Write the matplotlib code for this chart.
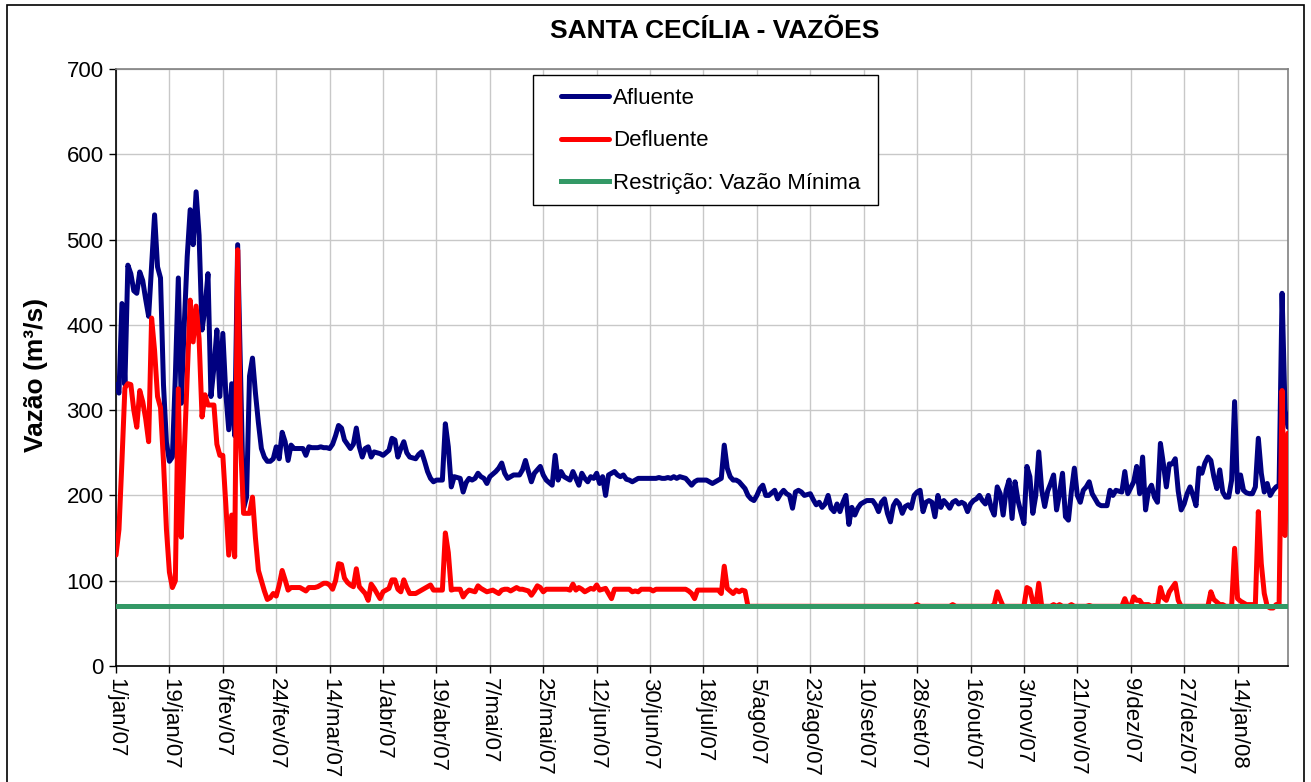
import matplotlib
matplotlib.use("Agg")
import matplotlib.pyplot as plt
from matplotlib.patches import Rectangle

plt.rcParams['font.family'] = ['Liberation Sans', 'DejaVu Sans']

# ---------------- data (daily, starting 1/jan/07) ----------------
afluente = [
    330, 320, 425, 330, 470, 460, 440, 437, 462, 452,   # 0
    430, 410, 470, 529, 468, 455, 330, 262, 240, 245,   # 10
    340, 455, 308, 400, 480, 535, 494, 556, 505, 394,   # 20
    420, 460, 316, 350, 394, 316, 390, 320, 277, 331,   # 30
    270, 494, 340, 185, 198, 340, 361, 320, 285, 255,   # 40
    245, 240, 240, 243, 257, 243, 274, 263, 241, 259,   # 50
    255, 255, 255, 255, 247, 257, 256, 256, 256, 257,   # 60
    256, 256, 255, 260, 270, 282, 279, 265, 260, 255,   # 70
    260, 279, 257, 245, 255, 257, 245, 251, 250, 249,   # 80
    247, 250, 253, 267, 265, 245, 255, 263, 250, 245,   # 90
    244, 243, 248, 251, 240, 228, 220, 216, 218, 218,   # 100
    218, 284, 257, 210, 222, 221, 220, 204, 215, 220,   # 110
    218, 220, 226, 222, 220, 214, 222, 225, 228, 232,   # 120
    238, 226, 220, 222, 224, 224, 224, 230, 241, 228,   # 130
    216, 226, 230, 234, 224, 218, 215, 212, 247, 218,   # 140
    228, 222, 220, 218, 228, 220, 212, 226, 220, 216,   # 150
    222, 220, 226, 214, 222, 200, 224, 226, 228, 224,   # 160
    222, 224, 219, 218, 216, 218, 220, 220, 220, 220,   # 170
    220, 220, 220, 221, 220, 220, 221, 220, 222, 220,   # 180
    222, 221, 220, 216, 212, 216, 218, 218, 218, 218,   # 190
    216, 214, 216, 218, 220, 259, 232, 222, 218, 218,   # 200
    216, 212, 208, 200, 196, 194, 200, 208, 212, 200,   # 210
    200, 203, 206, 196, 202, 206, 202, 200, 185, 204,   # 220
    206, 204, 200, 201, 202, 195, 189, 192, 186, 190,   # 230
    200, 185, 181, 190, 181, 192, 200, 166, 186, 177,   # 240
    185, 190, 192, 194, 194, 194, 189, 181, 192, 196,   # 250
    179, 169, 188, 194, 190, 179, 187, 189, 185, 200,   # 260
    204, 206, 181, 192, 194, 192, 175, 200, 186, 194,   # 270
    190, 185, 192, 194, 190, 192, 190, 181, 190, 194,   # 280
    196, 200, 194, 190, 200, 185, 177, 210, 202, 177,   # 290
    206, 218, 173, 216, 194, 180, 167, 234, 222, 179,   # 300
    200, 251, 206, 187, 205, 214, 224, 183, 202, 226,   # 310
    175, 171, 205, 232, 200, 192, 206, 210, 216, 202,   # 320
    196, 190, 188, 188, 188, 206, 200, 206, 205, 204,   # 330
    228, 202, 209, 216, 234, 202, 245, 183, 206, 212,   # 340
    198, 192, 261, 237, 210, 237, 237, 243, 205, 183,   # 350
    190, 202, 210, 200, 188, 232, 226, 238, 245, 241,   # 360
    222, 208, 230, 204, 198, 198, 218, 310, 204, 224,   # 370
    206, 203, 202, 202, 210, 267, 226, 204, 214, 200,   # 380
    206, 210, 212, 437, 300, 280,                       # 390
]

defluente = [
    130, 160, 240, 326, 331, 330, 300, 280, 323, 310,   # 0
    290, 263, 408, 370, 316, 303, 240, 160, 110, 92,    # 10
    100, 325, 151, 250, 340, 429, 380, 422, 384, 292,   # 20
    318, 306, 306, 306, 260, 247, 247, 190, 130, 177,   # 30
    128, 488, 260, 179, 179, 179, 198, 150, 112, 100,   # 40
    88, 78, 80, 85, 82, 95, 112, 101, 89, 92,           # 50
    92, 92, 92, 90, 88, 92, 92, 92, 93, 95,             # 60
    97, 97, 95, 90, 100, 120, 119, 103, 98, 95,         # 70
    93, 114, 93, 89, 85, 77, 96, 91, 85, 79,            # 80
    87, 89, 91, 101, 101, 90, 87, 101, 92, 85,          # 90
    85, 85, 87, 89, 91, 93, 95, 89, 89, 89,             # 100
    89, 156, 133, 89, 90, 90, 90, 81, 86, 89,           # 110
    88, 87, 94, 91, 89, 87, 88, 89, 87, 85,             # 120
    89, 90, 90, 88, 90, 92, 90, 90, 89, 88,             # 130
    83, 88, 94, 92, 87, 90, 90, 90, 90, 90,             # 140
    90, 90, 90, 89, 96, 89, 92, 90, 87, 89,             # 150
    91, 90, 95, 89, 90, 91, 85, 79, 90, 90,             # 160
    90, 90, 90, 90, 87, 88, 87, 90, 90, 90,             # 170
    90, 88, 90, 90, 90, 90, 90, 90, 90, 90,             # 180
    90, 90, 90, 88, 85, 79, 89, 89, 89, 89,             # 190
    89, 89, 89, 89, 85, 117, 91, 88, 85, 89,            # 200
    87, 89, 88, 70, 70, 70, 70, 70, 70, 70,             # 210
    70, 70, 70, 70, 70, 70, 70, 70, 70, 70,             # 220
    70, 70, 70, 70, 70, 70, 70, 70, 70, 70,             # 230
    70, 70, 70, 70, 70, 70, 70, 70, 70, 70,             # 240
    70, 70, 70, 70, 70, 70, 70, 70, 70, 70,             # 250
    70, 70, 70, 70, 70, 70, 70, 70, 70, 70,             # 260
    72, 70, 70, 70, 70, 70, 70, 70, 70, 70,             # 270
    70, 70, 72, 70, 70, 70, 70, 70, 70, 70,             # 280
    70, 70, 70, 70, 70, 70, 72, 87, 78, 70,             # 290
    70, 70, 70, 70, 70, 70, 70, 92, 90, 75,             # 300
    70, 97, 70, 70, 70, 70, 72, 70, 72, 70,             # 310
    70, 70, 72, 70, 70, 70, 70, 70, 71, 70,             # 320
    70, 70, 70, 70, 70, 70, 70, 70, 70, 70,             # 330
    79, 70, 70, 81, 77, 77, 72, 72, 72, 70,             # 340
    71, 70, 92, 80, 77, 87, 92, 97, 77, 70,             # 350
    70, 70, 70, 70, 70, 70, 70, 70, 70, 87,             # 360
    78, 75, 72, 72, 70, 70, 70, 138, 79, 76,            # 370
    74, 72, 72, 72, 72, 181, 120, 85, 70, 68,           # 380
    68, 72, 72, 323, 153, 273,                          # 390
]

restricao_vazao_minima = 70

tick_days = [0, 18, 36, 54, 72, 90, 108, 126, 144, 162, 180,
             198, 216, 234, 252, 270, 288, 306, 324, 342, 360, 378]
tick_labels = ['1/jan/07', '19/jan/07', '6/fev/07', '24/fev/07', '14/mar/07',
               '1/abr/07', '19/abr/07', '7/mai/07', '25/mai/07', '12/jun/07',
               '30/jun/07', '18/jul/07', '5/ago/07', '23/ago/07', '10/set/07',
               '28/set/07', '16/out/07', '3/nov/07', '21/nov/07', '9/dez/07',
               '27/dez/07', '14/jan/08']

y_ticks = [0, 100, 200, 300, 400, 500, 600, 700]

# ---------------- figure ----------------
W, H = 1311, 782
fig = plt.figure(figsize=(W / 100, H / 100), dpi=100)
fig.patch.set_facecolor('white')

# chart-area border (bottom edge lies outside the picture, as in the reference)
fig.patches.append(Rectangle((7 / W, -20 / H), 1297 / W, (H - 5 + 20) / H,
                             transform=fig.transFigure, fill=False,
                             edgecolor='black', linewidth=1.2))

ax = fig.add_axes([116 / W, 1 - 666 / H, 1172 / W, 597 / H])

days = list(range(len(afluente)))
restr = [restricao_vazao_minima] * len(days)

LW = 3.6
ax.plot(days, afluente, color='#000080', linewidth=LW, label='Afluente', zorder=3,
        solid_joinstyle='round', solid_capstyle='round')
ax.plot(days, defluente, color='#FF0000', linewidth=LW, label='Defluente', zorder=4,
        solid_joinstyle='round', solid_capstyle='round')
ax.plot(days, restr, color='#339966', linewidth=LW, label='Restrição: Vazão Mínima', zorder=5)

ax.set_xlim(0, 395)
ax.set_ylim(0, 700)
ax.set_yticks(y_ticks)
ax.set_yticklabels([str(v) for v in y_ticks], fontsize=16)
ax.set_xticks(tick_days)
ax.set_xticklabels(tick_labels, rotation=-90, fontsize=16, va='top', ha='center')

ax.grid(True, color='#c8c8c8', linewidth=1.0, zorder=0)
ax.set_axisbelow(True)

for s in ['top', 'right']:
    ax.spines[s].set_color('#808080')
    ax.spines[s].set_linewidth(1.2)
for s in ['left', 'bottom']:
    ax.spines[s].set_color('black')
    ax.spines[s].set_linewidth(1.2)

ax.tick_params(axis='both', direction='out', length=5, width=1.0, color='black')
ax.tick_params(axis='x', pad=4)
ax.tick_params(axis='y', pad=4)

ax.set_ylabel('Vazão (m³/s)', fontsize=19, fontweight='bold')
ax.yaxis.set_label_coords(-0.058, 0.487)

fig.text(715 / W, 1 - 31 / H, 'SANTA CECÍLIA - VAZÕES', fontsize=19, fontweight='bold',
         ha='center', va='center')

# legend: frame drawn as a separate box, entries placed inside
x0, x1 = (533 - 116) / 1172, (878 - 116) / 1172
yt, yb = (666 - 75) / 597, (666 - 205) / 597
ax.add_patch(Rectangle((x0, yb), x1 - x0, yt - yb, transform=ax.transAxes,
                       facecolor='white', edgecolor='black', linewidth=1.0,
                       zorder=9, clip_on=False))
leg = ax.legend(loc='upper left', bbox_to_anchor=((561 - 116) / 1172, (666 - 88) / 597),
                fontsize=16, frameon=False, handlelength=2.15, handletextpad=0.2,
                labelspacing=0.96, borderpad=0, borderaxespad=0)
leg.set_zorder(10)

fig.savefig('out.png', dpi=100)
